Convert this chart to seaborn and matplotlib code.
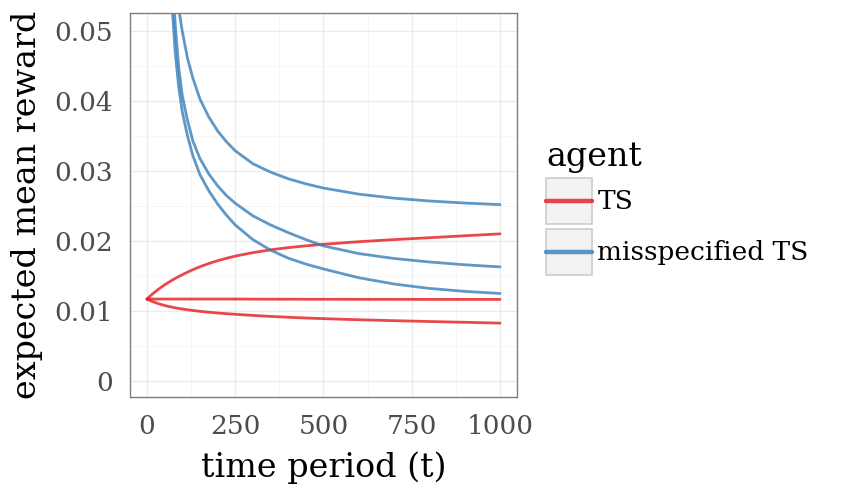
import pandas as pd
import matplotlib
matplotlib.use("Agg")
import matplotlib.pyplot as plt
import matplotlib.ticker as mticker
from matplotlib.patches import Rectangle
from matplotlib.lines import Line2D
from matplotlib.legend_handler import HandlerBase
import seaborn as sns

# time grid and the six curves
t = [0, 10, 20, 30, 40, 50, 60, 70, 80, 90, 100, 115, 130, 150, 175, 200, 225, 250,
     300, 350, 400, 450, 500, 600, 700, 800, 900, 1000]

ts_high = [0.01170, 0.01218, 0.01261, 0.01300, 0.01338, 0.01373, 0.01405, 0.01436, 0.01465, 0.01492,
           0.01518, 0.01555, 0.01590, 0.01632, 0.01678, 0.01718, 0.01753, 0.01784, 0.01834, 0.01874,
           0.01905, 0.01931, 0.01953, 0.01990, 0.02020, 0.02047, 0.02075, 0.02102]
ts_mid = [0.01170, 0.01170, 0.01170, 0.01170, 0.01170, 0.01170, 0.01170, 0.01170, 0.01170, 0.01170,
          0.01170, 0.01170, 0.01170, 0.01170, 0.01170, 0.01170, 0.01170, 0.01170, 0.01169, 0.01168,
          0.01168, 0.01167, 0.01167, 0.01166, 0.01166, 0.01165, 0.01165, 0.01165]
ts_low = [0.01170, 0.01146, 0.01126, 0.01108, 0.01092, 0.01078, 0.01066, 0.01055, 0.01045, 0.01036,
          0.01028, 0.01017, 0.01007, 0.00995, 0.00982, 0.00971, 0.00961, 0.00952, 0.00936, 0.00922,
          0.00910, 0.00899, 0.00890, 0.00874, 0.00861, 0.00849, 0.00838, 0.00826]

mis_a = [0.50, 0.28, 0.17, 0.12, 0.095, 0.080, 0.070, 0.0625, 0.0572, 0.0532,
         0.0500, 0.0461, 0.0433, 0.0403, 0.03775, 0.03575, 0.03420, 0.03290, 0.03105, 0.02985,
         0.02890, 0.02817, 0.02757, 0.02670, 0.02612, 0.02572, 0.02543, 0.02520]
mis_b = [0.80, 0.50, 0.30, 0.18, 0.12, 0.090, 0.072, 0.060, 0.0510, 0.0448,
         0.0408, 0.0372, 0.0343, 0.0318, 0.0296, 0.0279, 0.0265, 0.0254, 0.0236, 0.0223,
         0.0212, 0.0202, 0.0193, 0.0182, 0.0175, 0.0170, 0.0166, 0.0163]
mis_c = [0.90, 0.55, 0.33, 0.20, 0.13, 0.092, 0.068, 0.0545, 0.0470, 0.0420,
         0.0385, 0.0350, 0.0322, 0.0295, 0.0272, 0.0253, 0.0237, 0.0223, 0.0202, 0.01870,
         0.01755, 0.01670, 0.01600, 0.01475, 0.01385, 0.01322, 0.01280, 0.01250]

agents = ["TS", "misspecified TS"]
y_ticks = [0, 0.01, 0.02, 0.03, 0.04, 0.05]
y_tick_labels = ["0", "0.01", "0.02", "0.03", "0.04", "0.05"]
x_ticks = [0, 250, 500, 750, 1000]

rows = []
for run, (agent, vals) in enumerate([("TS", ts_high), ("TS", ts_mid), ("TS", ts_low),
                                     ("misspecified TS", mis_a), ("misspecified TS", mis_b),
                                     ("misspecified TS", mis_c)]):
    for tt, v in zip(t, vals):
        rows.append({"t": tt, "reward": v, "agent": agent, "run": run})
df = pd.DataFrame(rows)

RED = "#E41A1C"
BLUE = "#377EB8"


class KeyHandler(HandlerBase):
    # ggplot-like legend key: grey box with the line across it
    def create_artists(self, legend, orig_handle, xdescent, ydescent, width, height, fontsize, trans):
        rect = Rectangle((-xdescent, -ydescent), width, height, facecolor="#F2F2F2",
                         edgecolor="#CCCCCC", lw=1.2, transform=trans)
        line = Line2D([-xdescent, -xdescent + width], [height / 2 - ydescent] * 2,
                      color=orig_handle.get_color(), alpha=0.8, lw=3.2, transform=trans)
        return [rect, line]


sns.set_style("white")
plt.rcParams["font.family"] = ["DejaVu Serif"]
plt.rcParams["text.color"] = "black"
plt.rcParams["axes.labelcolor"] = "black"

fig = plt.figure(figsize=(8.42, 4.94), dpi=100)
ax = fig.add_axes([0.1544, 0.1964, 0.4596, 0.7773])

sns.lineplot(data=df, x="t", y="reward", hue="agent", units="run", estimator=None,
             palette=[RED, BLUE], hue_order=agents, alpha=0.8, lw=2, ax=ax, legend=False)

ax.set_xlim(-48, 1048)
ax.set_ylim(-0.0023, 0.0526)
ax.set_xticks(x_ticks)
ax.set_yticks(y_ticks)
ax.set_yticklabels(y_tick_labels)
ax.xaxis.set_minor_locator(mticker.FixedLocator([125, 375, 625, 875]))
ax.yaxis.set_minor_locator(mticker.FixedLocator([0.005, 0.015, 0.025, 0.035, 0.045]))
ax.grid(which="major", color="#EBEBEB", lw=1.0)
ax.grid(which="minor", color="#F5F5F5", lw=0.6)
ax.set_axisbelow(True)
for s in ax.spines.values():
    s.set_color("#7F7F7F")
    s.set_linewidth(1.0)
ax.tick_params(which="major", length=5, width=1, color="#7F7F7F", labelsize=19, labelcolor="#4D4D4D", pad=7)
ax.tick_params(which="minor", length=0)
ax.set_xlabel("time period (t)", fontsize=24, labelpad=9, color="black")
ax.set_ylabel("expected mean reward", fontsize=24, labelpad=8, color="black")

handles = [Line2D([], [], color=RED), Line2D([], [], color=BLUE)]
leg = fig.legend(handles, agents, handler_map={Line2D: KeyHandler()}, loc="center left",
                 bbox_to_anchor=(0.649, 0.579), frameon=False, fontsize=19, title="agent",
                 title_fontsize=24, handlelength=1.74, handleheight=2.30, labelspacing=0.19,
                 handletextpad=0.19, borderpad=0, borderaxespad=0, alignment="left")
for txt in leg.get_texts():
    txt.set_color("black")
leg.get_title().set_color("black")

fig.savefig("out.png", dpi=100)
